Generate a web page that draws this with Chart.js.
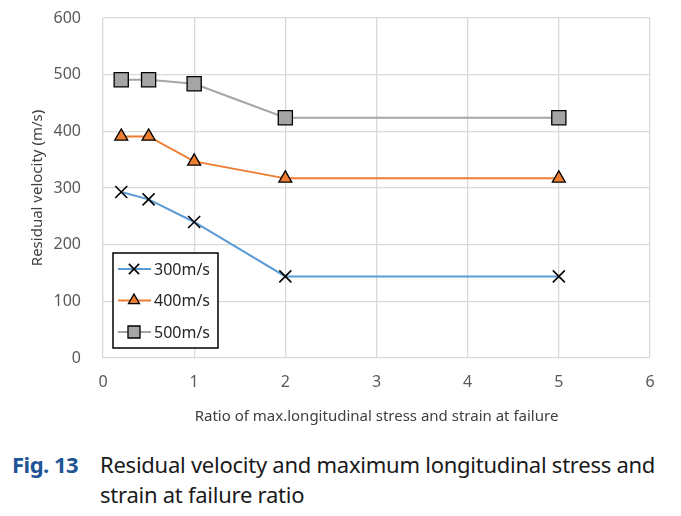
<!DOCTYPE html>
<html>
<head>
<meta charset="utf-8">
<script src="https://cdn.jsdelivr.net/npm/chart.js@4"></script>
<style>
  body { margin: 0; background: #fff; width: 681px; height: 516px; overflow: hidden; }
  #wrap { position: absolute; left: 0; top: 0; width: 681px; height: 430px; }
  #caption { position: absolute; left: 0; top: 449px; width: 681px; font-family: "Noto Sans", sans-serif; font-size: 22px; line-height: 30px; color: #1a1a1a; }
  #caption .fig { position: absolute; left: 12px; top: 0; color: #1f5596; font-weight: bold; letter-spacing: -0.5px; }
  #caption .txt { position: absolute; left: 100px; top: 0; width: 570px; letter-spacing: -0.25px; }
</style>
</head>
<body>
<div id="wrap"><canvas id="chart" width="681" height="430"></canvas></div>
<div id="caption">
  <span class="fig">Fig. 13</span>
  <div class="txt">Residual velocity and maximum longitudinal stress and strain at failure ratio</div>
</div>
<script>
var ratios = [0.2, 0.5, 1, 2, 5];
var v300 = [293, 280, 240, 144, 144];
var v400 = [391, 391, 347, 317, 317];
var v500 = [491, 491, 484, 424, 424];
var seriesNames = ['300m/s', '400m/s', '500m/s'];
var xTitle = 'Ratio of max.longitudinal stress and strain at failure';
var yTitle = 'Residual velocity (m/s)';

function pts(vals) {
    return ratios.map(function(x, i) { return {x: x, y: vals[i]}; });
}

var styles = [
    {line: '#5b9bd5', point: 'crossRot', fill: '#000', border: '#000', radius: 8.5, bw: 1.6},
    {line: '#ed7d31', point: 'triangle', fill: '#ed7d31', border: '#000', radius: 7.5, bw: 1.3},
    {line: '#a5a5a5', point: 'rect', fill: '#a5a5a5', border: '#000', radius: 10, bw: 1.3}
];

// legend drawn as a boxed overlay inside the plot, lower left
var legendBox = {
    id: 'legendBox',
    afterDraw: function(chart) {
        var ctx = chart.ctx;
        var x0 = 113, y0 = 253, w = 105, h = 95;
        ctx.save();
        ctx.fillStyle = '#fff';
        ctx.fillRect(x0, y0, w, h);
        ctx.strokeStyle = '#000';
        ctx.lineWidth = 1.5;
        ctx.strokeRect(x0, y0, w, h);
        chart.data.datasets.forEach(function(ds, i) {
            var cy = y0 + 16 + i * 31.5;
            ctx.strokeStyle = ds.borderColor;
            ctx.lineWidth = 2;
            ctx.beginPath();
            ctx.moveTo(x0 + 5, cy);
            ctx.lineTo(x0 + 38, cy);
            ctx.stroke();
            ctx.fillStyle = ds.pointBackgroundColor;
            ctx.strokeStyle = ds.pointBorderColor;
            ctx.lineWidth = ds.pointBorderWidth;
            Chart.helpers.drawPoint(ctx, {pointStyle: ds.pointStyle, radius: ds.pointRadius * 0.85, borderWidth: ds.pointBorderWidth}, x0 + 21, cy);
            ctx.fillStyle = '#262626';
            ctx.font = '16px "Noto Sans", sans-serif';
            ctx.textBaseline = 'middle';
            ctx.fillText(ds.label, x0 + 41, cy + 1);
        });
        ctx.restore();
    }
};

var datasets = [v300, v400, v500].map(function(vals, i) {
    var s = styles[i];
    return {
        label: seriesNames[i],
        data: pts(vals),
        borderColor: s.line,
        backgroundColor: s.line,
        borderWidth: 2,
        pointStyle: s.point,
        pointRadius: s.radius,
        pointHoverRadius: s.radius,
        pointBackgroundColor: s.fill,
        pointBorderColor: s.border,
        pointBorderWidth: s.bw,
        tension: 0
    };
});

new Chart(document.getElementById('chart'), {
    type: 'line',
    data: { datasets: datasets },
    options: {
        responsive: false,
        animation: false,
        layout: { padding: { top: 0, right: 31, left: 25, bottom: 0 } },
        plugins: { legend: { display: false }, tooltip: { enabled: false } },
        scales: {
            x: {
                type: 'linear', min: 0, max: 6,
                ticks: { stepSize: 1, color: '#595959', font: { family: 'Noto Sans', size: 16 }, padding: 15 },
                grid: { color: '#d9d9d9', lineWidth: 1.3, drawTicks: false },
                border: { display: false },
                title: { display: true, text: xTitle, color: '#404040', font: { family: 'Noto Sans', size: 15 }, padding: { top: 0 } },
                afterFit: function(s) { s.height = 72; }
            },
            y: {
                min: 0, max: 600,
                ticks: { stepSize: 100, color: '#595959', font: { family: 'Noto Sans', size: 16 }, padding: 22 },
                grid: { color: '#d9d9d9', lineWidth: 1.3, drawTicks: false },
                border: { display: false },
                title: { display: true, text: yTitle, color: '#404040', font: { family: 'Noto Sans', size: 15 }, padding: { bottom: 0 } },
                afterFit: function(s) { s.width = 78; s.paddingTop = 18; s.paddingBottom = 0; }
            }
        }
    },
    plugins: [legendBox]
});
</script>
</body>
</html>
